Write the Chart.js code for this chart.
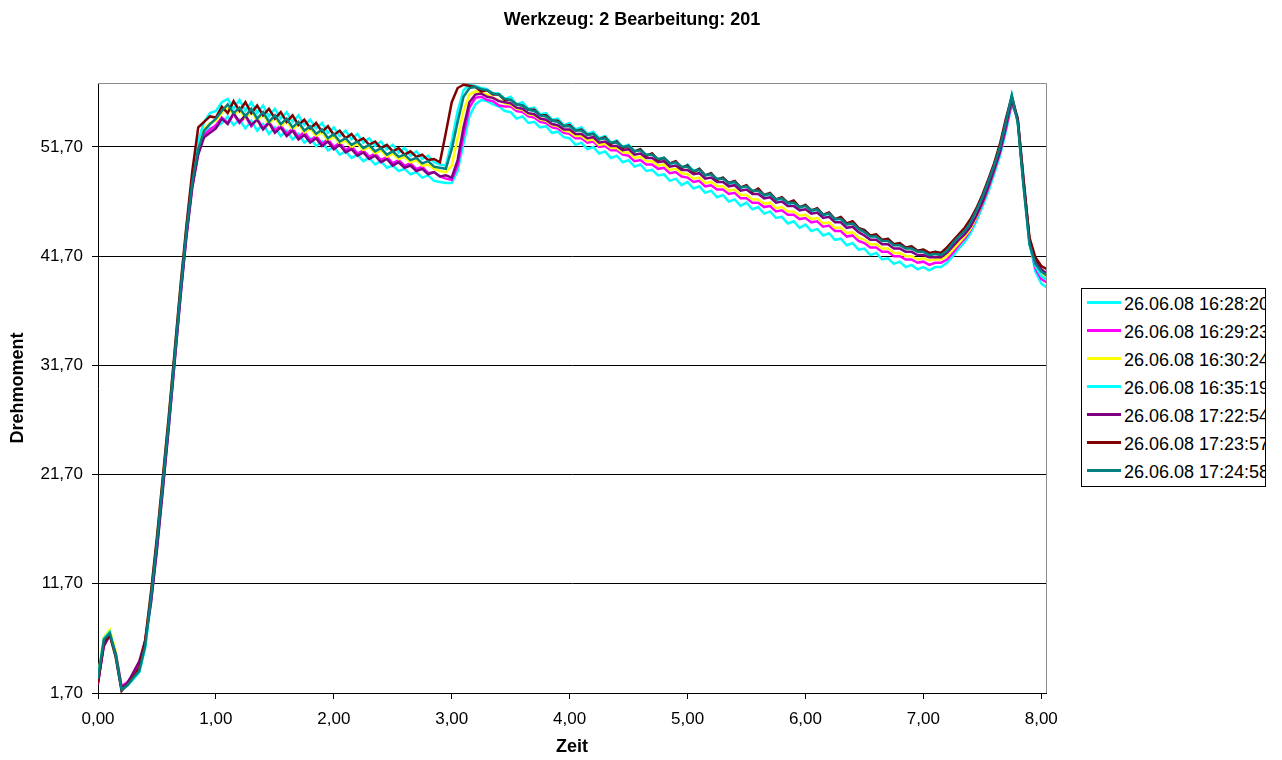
<!DOCTYPE html>
<html>
<head>
<meta charset="utf-8">
<script src="https://cdn.jsdelivr.net/npm/chart.js@4"></script>
<style>
  body { margin: 0; background: #fff; }
  #wrap { position: relative; width: 1282px; height: 760px; }
  #legend {
    position: absolute; left: 1081px; top: 288px; width: 185px; height: 199px;
    box-sizing: border-box; border: 1px solid #000; background: #fff;
    overflow: hidden; white-space: nowrap; padding-top: 1px;
    font: 18px "Liberation Sans", Arial, sans-serif; color: #000;
  }
  #legend div { height: 28px; line-height: 28px; }
  #legend span.sw { display: inline-block; width: 34px; height: 3px; margin: 0 3px 5px 5px; vertical-align: middle; }
</style>
</head>
<body>
<div id="wrap">
  <canvas id="chart"></canvas>
  <div id="legend"></div>
</div>
<script>
const titleText = 'Werkzeug: 2 Bearbeitung: 201';

// Series names (legend) and colours
const names = ['26.06.08 16:28:20', '26.06.08 16:29:23', '26.06.08 16:30:24', '26.06.08 16:35:19',
               '26.06.08 17:22:54', '26.06.08 17:23:57', '26.06.08 17:24:58'];
const colors = ['#00FFFF', '#FF00FF', '#FFFF00', '#00FFFF', '#800080', '#800000', '#008080'];

// Axis ticks
const xTicks = [0, 1, 2, 3, 4, 5, 6, 7, 8];
const yTicks = [1.7, 11.7, 21.7, 31.7, 41.7, 51.7];

// Sample times (s), every 0.05
const zeit = Array.from({ length: 162 }, (_, i) => +(i * 0.05).toFixed(2));

// Drehmoment per run
const run1628 = [2.9,6.3,7.1,5.1,2.0,2.4,3.0,3.6,5.8,10.1,
  15.0,20.5,26.2,32.2,38.2,43.8,48.3,51.3,52.9,53.4,
  53.5,53.9,54.5,53.7,54.2,53.4,54.1,53.2,53.8,52.9,
  53.5,52.7,53.2,52.4,52.9,52.1,52.5,51.8,52.2,51.4,
  51.7,51.0,51.3,50.7,51.0,50.4,50.7,50.1,50.4,49.8,
  50.0,49.5,49.7,49.2,49.4,48.9,49.1,48.6,48.5,48.4,
  48.4,49.5,52.0,54.5,55.6,56.0,55.9,55.6,55.4,55.0,
  54.9,54.3,54.5,53.9,54.0,53.5,53.6,53.0,53.1,52.6,
  52.5,51.9,52.1,51.5,51.7,51.1,51.3,50.7,50.9,50.3,
  50.5,49.9,50.1,49.5,49.6,49.1,49.2,48.6,48.8,48.2,
  48.5,47.9,48.1,47.5,47.7,47.1,47.3,46.7,46.9,46.3,
  46.6,46.0,46.2,45.6,45.8,45.2,45.3,44.7,44.9,44.3,
  44.6,44.0,44.2,43.6,43.8,43.2,43.3,42.7,42.9,42.3,
  42.4,41.8,42.0,41.4,41.5,41.0,41.2,40.7,40.9,40.5,
  40.7,40.4,40.7,40.7,41.1,41.7,42.4,43.0,43.8,44.9,
  46.2,47.6,49.2,50.9,53.1,55.6,54.4,48.9,43.0,40.3,
  39.2,38.8];
const run1629 = [2.5,6.2,7.1,5.4,2.3,2.7,3.4,4.2,6.4,10.3,
  15.2,20.7,26.2,32.2,38.2,43.7,48.2,51.2,52.8,53.3,
  53.7,54.4,53.9,54.7,53.9,54.5,53.6,54.3,53.4,54.0,
  53.2,53.7,52.9,53.4,52.6,53.1,52.3,52.7,52.0,52.4,
  51.7,52.1,51.4,51.8,51.1,51.4,50.8,51.1,50.5,50.8,
  50.2,50.5,50.0,50.2,49.7,49.9,49.3,49.4,49.0,48.8,
  48.7,50.0,52.8,55.3,56.2,56.3,56.0,55.9,55.5,55.4,
  55.4,55.0,54.9,54.5,54.4,54.0,53.9,53.5,53.4,53.0,
  52.9,52.5,52.5,52.1,52.2,51.7,51.8,51.4,51.4,51.0,
  50.9,50.4,50.5,50.1,50.1,49.7,49.8,49.3,49.4,49.0,
  48.9,48.5,48.6,48.1,48.2,47.8,47.8,47.4,47.5,47.0,
  47.0,46.6,46.6,46.2,46.3,45.8,45.9,45.5,45.5,45.1,
  45.2,44.8,44.9,44.4,44.5,44.0,44.0,43.5,43.6,43.1,
  42.9,42.5,42.5,42.1,42.1,41.7,41.7,41.4,41.4,41.1,
  41.2,40.9,41.1,41.1,41.4,42.0,42.7,43.3,44.1,45.2,
  46.5,47.9,49.5,51.2,53.4,55.8,54.2,48.6,43.0,40.6,
  39.6,39.3];
const run1630 = [3.2,6.8,7.5,5.5,2.1,2.5,3.1,3.8,6.2,10.8,
  15.8,21.3,26.8,32.8,38.8,44.2,48.8,51.8,53.4,53.9,
  54.1,54.8,55.4,54.6,55.1,54.3,55.0,54.1,54.7,53.8,
  54.4,53.6,54.1,53.3,53.8,53.0,53.4,52.7,53.1,52.3,
  52.7,52.0,52.3,51.7,52.0,51.4,51.7,51.1,51.4,50.8,
  51.1,50.6,50.8,50.3,50.5,50.0,50.1,49.7,49.5,49.4,
  50.0,52.5,55.0,56.5,56.8,56.7,56.5,56.2,56.0,55.7,
  55.6,55.2,55.1,54.7,54.6,54.2,54.1,53.7,53.6,53.2,
  53.1,52.7,52.7,52.3,52.4,51.9,52.0,51.6,51.6,51.2,
  51.2,50.7,50.8,50.4,50.4,50.0,50.1,49.6,49.7,49.3,
  49.2,48.8,48.9,48.4,48.5,48.1,48.1,47.7,47.8,47.3,
  47.3,46.9,46.9,46.5,46.6,46.1,46.2,45.8,45.8,45.4,
  45.5,45.1,45.2,44.7,44.8,44.3,44.3,43.8,43.9,43.4,
  43.2,42.8,42.8,42.4,42.4,42.0,42.0,41.7,41.7,41.4,
  41.5,41.3,41.4,41.4,41.7,42.3,42.9,43.5,44.2,45.3,
  46.6,48.0,49.6,51.4,53.7,56.1,54.1,48.3,43.0,41.0,
  40.0,39.7];
const run1635 = [3.1,6.7,7.3,5.2,2.1,2.4,3.0,3.7,6.1,10.7,
  15.7,21.2,26.8,32.8,38.8,44.3,49.0,52.3,54.0,54.8,
  55.0,55.8,56.1,55.2,56.0,55.0,55.8,54.8,55.5,54.5,
  55.2,54.3,54.9,54.0,54.6,53.7,54.2,53.4,53.9,53.0,
  53.5,52.7,53.2,52.4,52.9,52.1,52.5,51.8,52.2,51.5,
  51.9,51.2,51.6,50.9,51.3,50.6,50.9,50.3,50.1,50.0,
  52.2,55.0,56.9,57.4,57.3,57.1,57.0,56.6,56.6,56.1,
  56.3,55.6,55.8,55.2,55.3,54.7,54.8,54.2,54.3,53.7,
  53.9,53.3,53.5,52.9,53.1,52.5,52.7,52.1,52.3,51.7,
  51.9,51.3,51.5,50.9,51.1,50.5,50.7,50.1,50.3,49.7,
  50.1,49.5,49.7,49.1,49.3,48.7,48.9,48.3,48.5,47.9,
  48.2,47.6,47.8,47.2,47.4,46.8,47.0,46.4,46.6,46.1,
  46.4,45.8,46.0,45.4,45.6,45.0,45.2,44.6,44.8,44.2,
  44.1,43.5,43.7,43.1,43.3,42.8,42.9,42.4,42.6,42.2,
  42.3,41.9,42.1,42.0,42.4,43.0,43.6,44.1,44.9,46.0,
  47.2,48.6,50.1,51.8,54.1,56.5,54.0,48.2,42.8,40.8,
  39.9,39.5];
const run1722 = [2.8,6.0,7.0,5.3,2.2,2.6,3.6,4.6,6.5,10.0,
  14.8,20.3,26.0,32.0,38.0,43.5,48.0,51.0,52.6,53.0,
  53.4,54.3,53.8,54.8,54.0,54.6,53.7,54.2,53.3,53.9,
  53.0,53.5,52.7,53.2,52.4,52.8,52.1,52.5,51.8,52.2,
  51.5,51.9,51.2,51.5,50.9,51.2,50.6,50.9,50.3,50.6,
  50.0,50.3,49.8,50.0,49.5,49.7,49.2,49.4,49.0,49.1,
  48.9,50.5,53.5,55.8,56.5,56.6,56.3,56.2,55.9,55.8,
  55.7,55.3,55.2,54.8,54.7,54.3,54.2,53.8,53.7,53.3,
  53.3,52.9,52.9,52.5,52.6,52.1,52.2,51.8,51.8,51.4,
  51.5,51.0,51.1,50.7,50.7,50.3,50.4,49.9,50.0,49.6,
  49.6,49.2,49.3,48.8,48.9,48.5,48.5,48.1,48.2,47.7,
  47.8,47.4,47.4,47.0,47.1,46.6,46.7,46.3,46.3,45.9,
  46.0,45.6,45.7,45.2,45.3,44.8,44.8,44.3,44.4,43.9,
  43.6,43.2,43.2,42.8,42.8,42.4,42.4,42.1,42.1,41.8,
  41.8,41.6,41.6,41.6,42.0,42.6,43.2,43.7,44.4,45.4,
  46.6,48.0,49.6,51.3,53.6,56.0,54.2,48.4,43.2,41.3,
  40.5,40.1];
const run1723 = [2.6,6.4,7.0,5.0,1.9,2.5,3.2,4.0,6.5,11.0,
  16.0,21.5,27.0,33.0,39.0,44.5,49.5,53.5,54.0,54.5,
  54.4,55.4,54.8,55.9,55.0,55.8,54.8,55.5,54.6,55.2,
  54.3,54.9,54.0,54.6,53.7,54.2,53.4,53.9,53.1,53.6,
  52.8,53.2,52.5,52.9,52.2,52.5,51.9,52.2,51.6,51.9,
  51.3,51.6,51.0,51.3,50.8,51.0,50.5,50.6,50.3,53.0,
  55.8,57.1,57.4,57.3,57.2,56.8,56.9,56.5,56.5,56.0,
  56.0,55.6,55.5,55.1,55.1,54.6,54.6,54.1,54.1,53.6,
  53.7,53.2,53.3,52.8,52.9,52.4,52.6,52.0,52.2,51.6,
  51.8,51.3,51.5,50.9,51.1,50.5,50.7,50.2,50.4,49.8,
  50.0,49.4,49.7,49.1,49.3,48.7,48.9,48.4,48.6,48.0,
  48.2,47.6,47.9,47.3,47.5,46.9,47.1,46.6,46.8,46.2,
  46.4,45.9,46.1,45.5,45.7,45.1,45.3,44.7,44.9,44.3,
  44.1,43.6,43.7,43.2,43.3,42.8,42.9,42.5,42.6,42.2,
  42.3,42.0,42.1,42.0,42.5,43.1,43.7,44.3,45.1,46.1,
  47.3,48.7,50.2,52.0,54.3,56.3,54.3,48.6,43.4,41.6,
  40.8,40.5];
const run1724 = [3.0,6.6,7.2,5.2,2.0,2.4,3.1,3.7,6.0,10.5,
  15.5,21.0,26.5,32.5,38.5,44.0,48.5,51.5,53.2,53.8,
  54.3,55.0,55.6,54.8,55.3,54.5,55.2,54.3,54.9,54.0,
  54.6,53.8,54.3,53.5,54.0,53.2,53.6,52.9,53.3,52.5,
  52.9,52.2,52.5,51.9,52.2,51.6,51.9,51.3,51.6,51.0,
  51.3,50.8,51.0,50.5,50.7,50.2,50.4,49.9,49.8,49.7,
  51.5,54.0,56.3,57.1,57.2,57.0,56.9,56.6,56.5,56.1,
  56.0,55.6,55.5,55.1,55.0,54.6,54.5,54.1,54.0,53.6,
  53.6,53.2,53.2,52.8,52.9,52.4,52.5,52.1,52.1,51.7,
  51.8,51.3,51.4,51.0,51.0,50.6,50.7,50.2,50.3,49.9,
  49.9,49.5,49.6,49.1,49.2,48.8,48.8,48.4,48.5,48.0,
  48.1,47.7,47.7,47.3,47.4,46.9,47.0,46.6,46.6,46.2,
  46.3,45.9,46.0,45.5,45.6,45.1,45.1,44.6,44.7,44.2,
  43.9,43.5,43.5,43.1,43.1,42.7,42.7,42.4,42.4,42.1,
  42.1,41.8,41.9,41.8,42.2,42.9,43.5,44.0,44.8,45.9,
  47.1,48.5,50.0,51.7,54.0,56.4,54.0,48.0,42.8,41.0,
  40.3,39.9];

const runs = [run1628, run1629, run1630, run1635, run1722, run1723, run1724];

// Format like 51,70
function formatComma(v) {
    return v.toFixed(2).replace('.', ',');
}

const fontFamily = '"Liberation Sans", Arial, sans-serif';

// Excel-like grey frame on top and right of the plot area
const plotFrame = {
    id: 'plotFrame',
    beforeDatasetsDraw(chart) {
        const { ctx, chartArea: a } = chart;
        ctx.save();
        ctx.strokeStyle = '#8c8c8c';
        ctx.lineWidth = 1;
        ctx.beginPath();
        ctx.moveTo(a.left, a.top + 0.5);
        ctx.lineTo(a.right + 0.5, a.top + 0.5);
        ctx.lineTo(a.right + 0.5, a.bottom);
        ctx.stroke();
        ctx.restore();
    }
};

// Chart title centred on the whole picture (legend included)
const chartTitle = {
    id: 'chartTitle',
    afterDraw(chart) {
        const ctx = chart.ctx;
        ctx.save();
        ctx.font = 'bold 18px ' + fontFamily;
        ctx.fillStyle = '#000';
        ctx.textAlign = 'center';
        ctx.textBaseline = 'middle';
        ctx.fillText(titleText, 632, 20);
        ctx.restore();
    }
};

const datasets = runs.map((run, i) => ({
    label: names[i],
    data: run.map((v, j) => ({ x: zeit[j], y: v })),
    borderColor: colors[i],
    backgroundColor: colors[i],
    borderWidth: 2.5,
    pointRadius: 0,
    tension: 0,
    fill: false,
    order: runs.length - 1 - i
}));

new Chart(document.getElementById('chart').getContext('2d'), {
    type: 'line',
    data: { datasets: datasets },
    options: {
        responsive: true,
        maintainAspectRatio: false,
        animation: false,
        layout: { padding: { left: 0, right: 236, top: 83, bottom: 0 } },
        plugins: {
            legend: { display: false },
            tooltip: { enabled: false },
            title: { display: false }
        },
        scales: {
            x: {
                type: 'linear',
                min: 0,
                max: 8.04,
                afterBuildTicks: scale => { scale.ticks = xTicks.map(v => ({ value: v })); },
                afterFit: scale => { scale.height = 67; },
                ticks: {
                    callback: v => formatComma(v),
                    color: '#000',
                    padding: 10,
                    maxRotation: 0,
                    autoSkip: false,
                    font: { family: fontFamily, size: 17 }
                },
                grid: { drawOnChartArea: false, drawTicks: true, tickLength: 6, color: '#000' },
                border: { display: true, color: '#000', width: 1 },
                title: {
                    display: true,
                    text: 'Zeit',
                    color: '#000',
                    font: { family: fontFamily, size: 18, weight: 'bold' },
                    padding: { top: 2, bottom: 2 }
                }
            },
            y: {
                min: 1.7,
                max: 57.56,
                afterBuildTicks: scale => { scale.ticks = yTicks.map(v => ({ value: v })); },
                afterFit: scale => { scale.width = 98; },
                ticks: {
                    callback: v => formatComma(v),
                    color: '#000',
                    padding: 9,
                    font: { family: fontFamily, size: 17 }
                },
                grid: { color: '#000', lineWidth: 1, drawTicks: true, tickLength: 6 },
                border: { display: true, color: '#000', width: 1 },
                title: {
                    display: true,
                    text: 'Drehmoment',
                    color: '#000',
                    font: { family: fontFamily, size: 18, weight: 'bold' },
                    padding: { top: 7, bottom: 2 }
                }
            }
        }
    },
    plugins: [plotFrame, chartTitle]
});

// HTML legend, clipped by its frame like the original
const legend = document.getElementById('legend');
names.forEach((name, i) => {
    const row = document.createElement('div');
    row.innerHTML = `<span class="sw" style="background:${colors[i]}"></span>${name}`;
    legend.appendChild(row);
});
</script>
</body>
</html>
